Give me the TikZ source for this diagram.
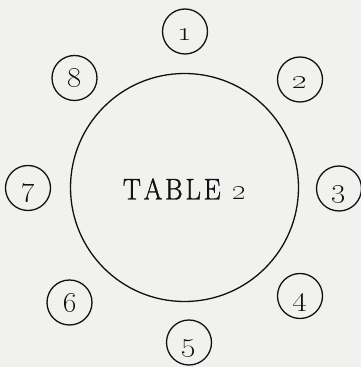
\documentclass[tikz,border=0pt]{standalone}
\definecolor{bg}{HTML}{F1F1EF}
\definecolor{ink}{HTML}{111111}
\newcommand{\heavy}[1]{\special{pdf:literal direct 2 Tr 0.35 w}#1\special{pdf:literal direct 0 Tr}}
\newcommand{\osn}[1]{\heavy{\scalebox{1.28}[1.12]{\oldstylenums{#1}}}}
\begin{document}
\begin{tikzpicture}[x=1pt,y=1pt,
  seat/.style={circle,draw=ink,line width=1.3pt,minimum size=45pt,inner sep=0pt,
    text height=18pt,text depth=0pt,font=\fontsize{24}{24}\selectfont,text=ink},
  tablecirc/.style={circle,draw=ink,line width=1.3pt,minimum size=228pt,inner sep=0pt}]
\fill[bg] (0,0) rectangle (361,367);
\useasboundingbox (0,0) rectangle (361,367);
\node[tablecirc] (big) at (184.5,179.5) {};
\node[anchor=base,text=ink,font=\fontsize{30}{30}\selectfont,inner sep=0pt] (title) at ([yshift=-12pt]big.center)
  {\heavy{\scalebox{0.9}[1]{T\kern3pt A\kern3pt B\kern3pt L\kern3pt E}\kern12pt\oldstylenums{2}}};
\node[seat] (s1) at (185,335.5) {\osn{1}};
\node[seat] (s2) at (300,287.5) {\osn{2}};
\node[seat] (s3) at (339,178.5) {\osn{3}};
\node[seat] (s4) at (300,71) {\osn{4}};
\node[seat] (s5) at (189,24.5) {\osn{5}};
\node[seat] (s6) at (69.5,64.5) {\osn{6}};
\node[seat] (s7) at (28,179) {\osn{7}};
\node[seat] (s8) at (74.5,289) {\osn{8}};
\end{tikzpicture}
\end{document}
